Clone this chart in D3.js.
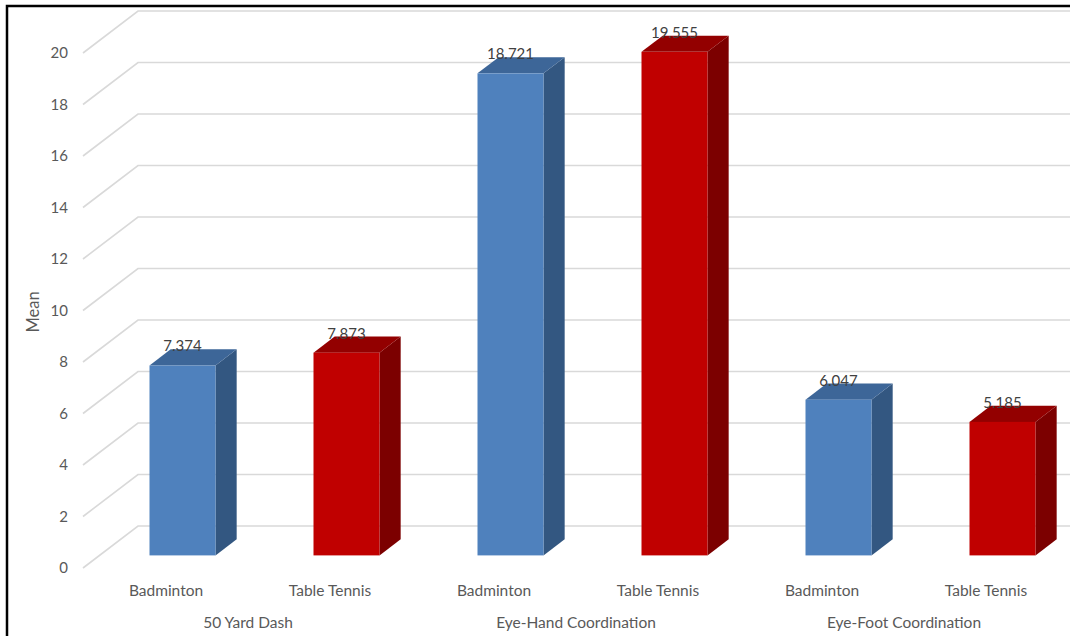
<!DOCTYPE html>
<html><head><meta charset="utf-8">
<script src="https://cdn.jsdelivr.net/npm/d3@7"></script>
<style>body{margin:0;background:#fff}svg{display:block}text{font-family:Lato,"Open Sans",sans-serif;fill:#595959}</style>
</head><body><svg id="c" width="1070" height="636"></svg>
<script>
const groups = ["50 Yard Dash", "Eye-Hand Coordination", "Eye-Foot Coordination"];
const series = ["Badminton", "Table Tennis"];
const badminton = [7.374, 18.721, 6.047];
const tableTennis = [7.873, 19.555, 5.185];
const yTicks = [0, 2, 4, 6, 8, 10, 12, 14, 16, 18, 20];
const yTitle = "Mean";

const svg = d3.select("#c");
const W = 1070, H = 636;
// projection parameters
const DX = 55, DY = -42;       // full depth offset
const f0 = 0.30, f1 = 0.685;     // bar depth fractions

const cats = [];
groups.forEach((g, gi) => series.forEach((s, si) => cats.push({g, s, gi, si, v: si === 0 ? badminton[gi] : tableTennis[gi]})));

const x = d3.scaleBand().domain(cats.map((d, i) => i)).range([84, 84 + 6 * 164]).paddingInner(0).paddingOuter(0);
const y = d3.scaleLinear().domain([0, 20]).range([568, 53]);
const barW = 66;

const colors = [
  {front: "#4f81bd", side: "#335781", top: "#3d6698"},
  {front: "#c00000", side: "#7c0000", top: "#930000"}
];

// gridlines: left wall diagonal + back wall
const grid = svg.append("g");
yTicks.forEach(t => {
  const yf = y(t);
  grid.append("path")
    .attr("d", `M${x.range()[0] - 1},${yf} L${x.range()[0] - 1 + DX},${yf + DY} L${W},${yf + DY}`)
    .attr("fill", "none").attr("stroke", "#d9d9d9").attr("stroke-width", 1.6);
});

// y tick labels
svg.append("g").selectAll("text").data(yTicks).join("text")
  .attr("x", 68).attr("y", d => y(d)).attr("dy", "0.36em")
  .attr("text-anchor", "end").attr("font-size", 15).text(d => d);

// y title
svg.append("text").attr("transform", `translate(39,312) rotate(-90)`)
  .attr("text-anchor", "middle").attr("font-size", 16.5).text(yTitle);

// bars
const bars = svg.append("g");
cats.forEach((d, i) => {
  const cx = x(i) + x.bandwidth() / 2;
  const c = colors[d.si];
  const xl = cx - barW / 2 + f0 * DX, xr = xl + barW;
  const yb = y(0) + f0 * DY, yt = y(d.v) + f0 * DY;
  const ddx = (f1 - f0) * DX, ddy = (f1 - f0) * DY;
  // side
  bars.append("path").attr("d", `M${xr},${yb} L${xr + ddx},${yb + ddy} L${xr + ddx},${yt + ddy} L${xr},${yt} Z`).attr("fill", c.side);
  // top
  bars.append("path").attr("d", `M${xl},${yt} L${xl + ddx},${yt + ddy} L${xr + ddx},${yt + ddy} L${xr},${yt} Z`).attr("fill", c.top);
  // front
  bars.append("rect").attr("x", xl).attr("y", yt).attr("width", barW).attr("height", yb - yt).attr("fill", c.front);
  // value label
  svg.append("text").attr("x", xl + barW / 2).attr("y", yt + ddy + 2)
    .attr("text-anchor", "middle").attr("font-size", 15).style("fill", "#404040").text(d3.format(".3f")(d.v));
});

// category labels
svg.append("g").selectAll("text").data(cats).join("text")
  .attr("x", (d, i) => x(i) + x.bandwidth() / 2).attr("y", 590).attr("dy", "0.36em")
  .attr("text-anchor", "middle").attr("font-size", 15.5).text(d => d.s);

// group labels
svg.append("g").selectAll("text").data(groups).join("text")
  .attr("x", (d, i) => x(i * 2) + x.bandwidth()).attr("y", 622).attr("dy", "0.36em")
  .attr("text-anchor", "middle").attr("font-size", 15.5).text(d => d);

// frame
svg.append("path").attr("d", `M7,${H} L7,6 L${W},6`).attr("fill", "none").attr("stroke", "#000").attr("stroke-width", 2.5);
</script></body></html>
